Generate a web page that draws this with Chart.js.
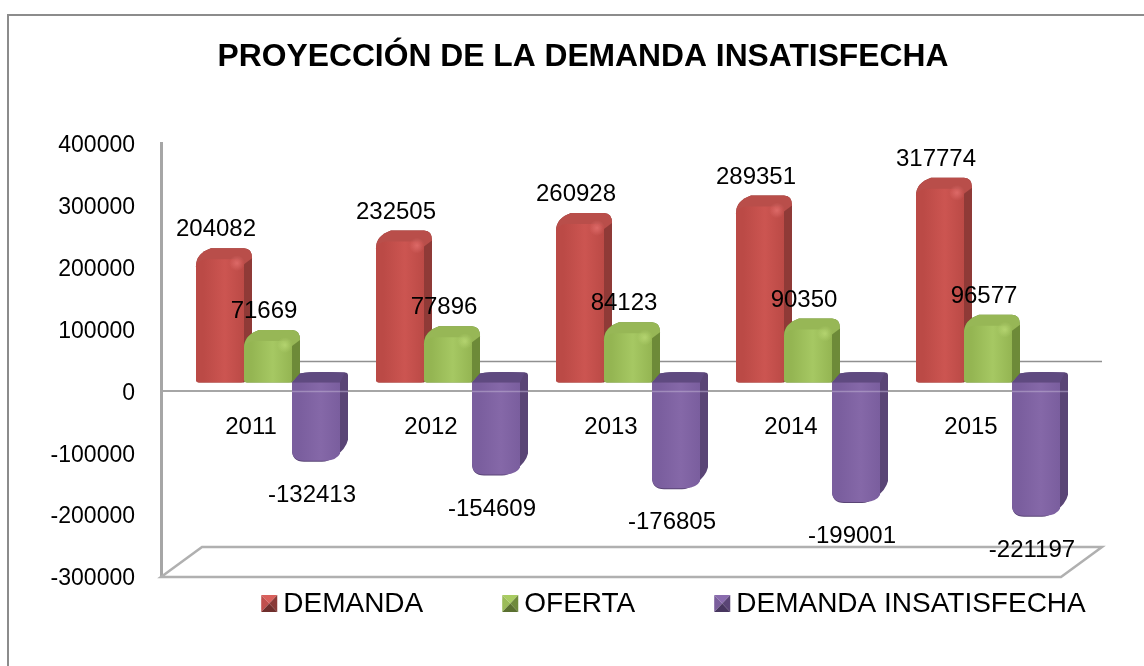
<!DOCTYPE html>
<html><head><meta charset="utf-8">
<style>html,body{margin:0;padding:0;background:#fff}canvas{display:block}</style>
<script src="https://cdn.jsdelivr.net/npm/chart.js@4/dist/chart.umd.js"></script>
</head><body><canvas id="c" width="1144" height="666"></canvas>
<script>
const categories = ['2011','2012','2013','2014','2015'];
const demanda = [204082,232505,260928,289351,317774];
const oferta = [71669,77896,84123,90350,96577];
const insatisfecha = [-132413,-154609,-176805,-199001,-221197];
const seriesNames = ['DEMANDA','OFERTA','DEMANDA INSATISFECHA'];
const seriesColors = ['#c0504d','#9bbb59','#8064a2'];
const chartTitle = 'PROYECCIÓN DE LA DEMANDA INSATISFECHA';
const FONT = '"Liberation Sans", Arial, sans-serif';

const PAL = {
  '#c0504d': {edge:'#bb4a46', mid:'#cc5551', top:'#b94e4a', side:'#8f3a37', hi:'255,140,140', sw:['#d9605c','#c0504d','#8a3a38','#6f2e2c']},
  '#9bbb59': {edge:'#94b552', mid:'#a6c863', top:'#97b756', side:'#6d8a38', hi:'210,240,140', sw:['#a9cc62','#9bbb59','#6f8a3c','#5a7030']},
  '#8064a2': {edge:'#7a5e9e', mid:'#8568a8', top:'#5f4a80', side:'#5a4576', hi:'170,140,210', sw:['#8a6cae','#7a5e9c','#5a4576','#47365f']}
};
const SX = 17, SY = -9, D = 8;

Chart.BarElement.prototype.draw = function(ctx){
  const p = PAL[this.options.backgroundColor];
  const x0 = this.x - this.width/2 + SX, x1 = this.x + this.width/2 + SX;
  ctx.save();
  ctx.filter = 'blur(0.7px)';
  const hGrad = ctx.createLinearGradient(x0,0,x1,0);
  hGrad.addColorStop(0,p.edge); hGrad.addColorStop(0.15,p.edge);
  hGrad.addColorStop(0.6,p.mid); hGrad.addColorStop(1,p.edge);
  if (this.y <= this.base) {
    const yT = this.y + SY, yB = this.base + SY;
    // silhouette: side colour
    ctx.beginPath();
    ctx.moveTo(x0+3,yB);
    ctx.quadraticCurveTo(x0,yB,x0,yB-3);
    ctx.lineTo(x0,yT+10);
    ctx.quadraticCurveTo(x0,yT-3,x0+15,yT-D);
    ctx.lineTo(x1,yT-D);
    ctx.quadraticCurveTo(x1+D,yT-D,x1+D,yT+2);
    ctx.lineTo(x1+D,yB-8);
    ctx.lineTo(x1,yB);
    ctx.closePath();
    ctx.fillStyle = p.side; ctx.fill();
    // top bevel
    ctx.beginPath();
    ctx.moveTo(x0,yT+10);
    ctx.quadraticCurveTo(x0,yT-3,x0+15,yT-D);
    ctx.lineTo(x1,yT-D);
    ctx.quadraticCurveTo(x1+D,yT-D,x1+D,yT+2);
    ctx.lineTo(x1,yT+8);
    ctx.closePath();
    ctx.fillStyle = p.top; ctx.fill();
    // front
    ctx.beginPath();
    ctx.moveTo(x0+3,yB);
    ctx.quadraticCurveTo(x0,yB,x0,yB-3);
    ctx.lineTo(x0,yT+10);
    ctx.quadraticCurveTo(x0+2,yT+4,x0+10,yT+3);
    ctx.lineTo(x1-5,yT+3);
    ctx.quadraticCurveTo(x1,yT+3,x1,yT+8);
    ctx.lineTo(x1,yB-3);
    ctx.quadraticCurveTo(x1,yB,x1-3,yB);
    ctx.closePath();
    ctx.fillStyle = hGrad; ctx.fill();
    const rg = ctx.createRadialGradient(x1-7,yT+7,0,x1-7,yT+7,8);
    rg.addColorStop(0,'rgba('+p.hi+',0.45)'); rg.addColorStop(1,'rgba('+p.hi+',0)');
    ctx.fillStyle = rg; ctx.fillRect(x1-15,yT-1,16,16);
  } else {
    const yT = this.base + SY, yB = this.y + SY - 2.5;
    ctx.beginPath();
    ctx.moveTo(x0,yT);
    ctx.lineTo(x0+8,yT-9);
    ctx.quadraticCurveTo(x0+20,yT-11,x1+D-3,yT-10);
    ctx.quadraticCurveTo(x1+D,yT-10,x1+D,yT-7);
    ctx.lineTo(x1+D,yB-22);
    ctx.quadraticCurveTo(x1+D-2,yB-13,x1-5,yB-5);
    ctx.quadraticCurveTo(x1-12,yB,x1-18,yB);
    ctx.lineTo(x0+12,yB);
    ctx.quadraticCurveTo(x0,yB,x0,yB-12);
    ctx.closePath();
    ctx.fillStyle = p.side; ctx.fill();
    // top
    ctx.beginPath();
    ctx.moveTo(x0,yT);
    ctx.lineTo(x0+8,yT-9);
    ctx.quadraticCurveTo(x0+20,yT-11,x1+D-3,yT-10);
    ctx.lineTo(x1,yT);
    ctx.closePath();
    ctx.fillStyle = p.top; ctx.fill();
    // front
    ctx.beginPath();
    ctx.moveTo(x0,yT);
    ctx.lineTo(x1,yT);
    ctx.lineTo(x1,yB-8);
    ctx.quadraticCurveTo(x1-3,yB-2,x1-14,yB-1);
    ctx.lineTo(x0+12,yB-1);
    ctx.quadraticCurveTo(x0,yB-1,x0,yB-12);
    ctx.closePath();
    ctx.fillStyle = hGrad; ctx.fill();
  }
  ctx.restore();
};

const decor = {
  id:'decor',
  beforeLayout(chart){
    const l = chart.legend;
    if (!l._fixedFit) {
      const f = l.fit;
      l.fit = function(){ f.call(this); this.height = 30; };
      l._fixedFit = true;
    }
  },
  afterLayout(chart){
    const t = chart.titleBlock; t.left = 22; t.right = 1144; t.top = 39; t.bottom = 75;
    const l = chart.legend; l.left = 101.5; l.right = 1245.5; l.top = 511; l.bottom = 660;
  },
  beforeDraw(chart){
    const c = chart.ctx;
    c.save();
    c.fillStyle = '#fff'; c.fillRect(0,0,1144,666);
    c.strokeStyle = '#8c8c8c'; c.lineWidth = 2;
    c.beginPath(); c.moveTo(8,666); c.lineTo(8,15); c.lineTo(1144,15); c.stroke();
    c.restore();
  },
  beforeDatasetsDraw(chart){
    const c = chart.ctx, ys = chart.scales.y, xs = chart.scales.x;
    const L = xs.left, R = xs.right, y0 = ys.getPixelForValue(0), yF = ys.getPixelForValue(-300000);
    const dx = 41, dy = -30;
    c.save();
    c.strokeStyle = '#b0b0b0'; c.lineWidth = 2.5;
    c.beginPath(); c.moveTo(L,yF); c.lineTo(R,yF); c.lineTo(R+dx,yF+dy); c.lineTo(L+dx,yF+dy); c.closePath(); c.stroke();
    c.strokeStyle = '#909090'; c.lineWidth = 1.5;
    c.beginPath(); c.moveTo(L+dx,y0+dy); c.lineTo(R+dx,y0+dy); c.stroke();
    c.restore();
    [0,1,2].forEach(i => chart.getDatasetMeta(i).controller.draw());
    c.save();
    c.strokeStyle = 'rgba(190,175,210,0.55)'; c.lineWidth = 1.5;
    chart.getDatasetMeta(2).data.forEach(el => {
      const x0 = el.x - el.width/2 + SX, x1 = el.x + el.width/2 + SX + D;
      c.beginPath(); c.moveTo(x0,y0); c.lineTo(x1,y0); c.stroke();
    });
    c.restore();
    return false;
  },
  afterDraw(chart){
    const c = chart.ctx;
    c.save();
    c.font = '24px ' + FONT; c.fillStyle = '#000'; c.textAlign = 'center'; c.textBaseline = 'middle';
    chart.data.datasets.forEach((ds,i) => {
      chart.getDatasetMeta(i).data.forEach((el,j) => {
        const v = ds.data[j];
        c.fillText(String(v), el.x + 13, v >= 0 ? el.y - 35.5 : el.y + 22);
      });
    });
    chart.legend.legendHitBoxes.forEach((h,i) => {
      const s = PAL[seriesColors[i]].sw;
      const x = h.left, w = 16, y = 595, b = 17, cx = x + w/2, cy = y + b/2;
      c.fillStyle='#fff'; c.fillRect(x,y-6,9,b+12);
      const tri = (pts,col) => { c.beginPath(); c.moveTo(...pts[0]); c.lineTo(...pts[1]); c.lineTo(...pts[2]); c.closePath(); c.fillStyle = col; c.fill(); };
      tri([[x,y],[x+w,y],[cx,cy]],s[0]);
      tri([[x,y],[x,y+b],[cx,cy]],s[1]);
      tri([[x+w,y],[x+w,y+b],[cx,cy]],s[2]);
      tri([[x,y+b],[x+w,y+b],[cx,cy]],s[3]);
    });
    c.restore();
  }
};

new Chart(document.getElementById('c'), {
  type:'bar',
  plugins:[decor],
  data:{
    labels:categories,
    datasets:[
      {label:seriesNames[0], data:demanda, backgroundColor:seriesColors[0]},
      {label:seriesNames[1], data:oferta, backgroundColor:seriesColors[1]},
      {label:seriesNames[2], data:insatisfecha, backgroundColor:seriesColors[2]}
    ]
  },
  options:{
    responsive:false, animation:false, devicePixelRatio:1,
    categoryPercentage:0.8, barPercentage:1,
    layout:{padding:{left:0,right:83,top:108,bottom:59}},
    plugins:{
      tooltip:{enabled:false},
      title:{display:true,text:chartTitle,color:'#000',padding:0,font:{family:FONT,size:31.8,weight:'bold',lineHeight:1.13}},
      legend:{position:'bottom',labels:{color:'#000',padding:79,boxWidth:8,boxHeight:10,font:{family:FONT,size:28}}}
    },
    scales:{
      x:{position:{y:0},grid:{display:false,drawTicks:false},
         border:{display:true,color:'#a6a6a6',width:2},
         ticks:{color:'#000',padding:22,font:{family:FONT,size:24},maxRotation:0}},
      y:{min:-300000,max:400000,grid:{display:false,drawTicks:false},
         border:{display:true,color:'#a6a6a6',width:3},
         afterFit(s){s.width=161;},
         ticks:{color:'#000',padding:26,stepSize:100000,labelOffset:2,font:{family:FONT,size:23},callback:v=>String(v)}}
    }
  }
});
</script></body></html>
